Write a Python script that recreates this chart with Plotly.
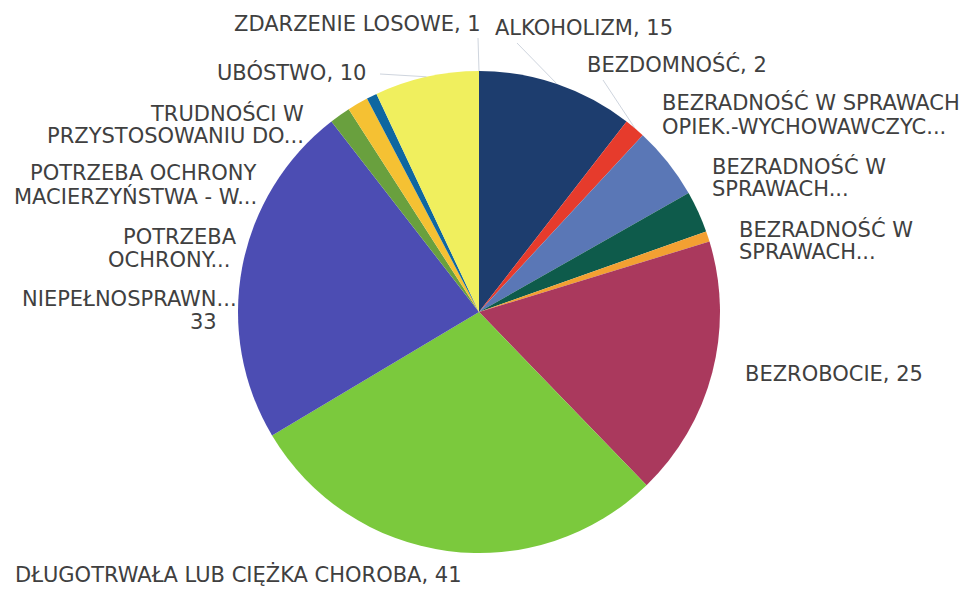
import math
import plotly.graph_objects as go

# ---- data (clockwise from 12 o'clock) ----
categories = [
    "ALKOHOLIZM",
    "BEZDOMNOŚĆ",
    "BEZRADNOŚĆ W SPRAWACH OPIEK.-WYCHOWAWCZYCH",
    "BEZRADNOŚĆ W SPRAWACH... (2)",
    "BEZRADNOŚĆ W SPRAWACH... (3)",
    "BEZROBOCIE",
    "DŁUGOTRWAŁA LUB CIĘŻKA CHOROBA",
    "NIEPEŁNOSPRAWNOŚĆ",
    "POTRZEBA OCHRONY...",
    "POTRZEBA OCHRONY MACIERZYŃSTWA - W...",
    "TRUDNOŚCI W PRZYSTOSOWANIU DO...",
    "ZDARZENIE LOSOWE",
    "UBÓSTWO",
]
values = [15, 2, 7, 4, 1, 25, 41, 33, 0, 2, 2, 1, 10]
colors = ["#1d3d6e", "#e63b2c", "#5a77b6", "#0e5b4b", "#f3a032", "#aa395d",
          "#7bc93d", "#4c4db3", "#8a8a8a", "#69a03e", "#f5c133", "#0f67a0", "#f0ef5e"]

# label text lines (as shown on the chart)
label_lines = [
    ["ZDARZENIE LOSOWE, 1"],
    ["ALKOHOLIZM, 15"],
    ["BEZDOMNOŚĆ, 2"],
    ["BEZRADNOŚĆ W SPRAWACH", "OPIEK.-WYCHOWAWCZYC..."],
    ["BEZRADNOŚĆ W", "SPRAWACH..."],
    ["BEZRADNOŚĆ W", "SPRAWACH..."],
    ["BEZROBOCIE, 25"],
    ["DŁUGOTRWAŁA LUB CIĘŻKA CHOROBA, 41"],
    ["NIEPEŁNOSPRAWN...", "33\u00a0\u00a0\u00a0"],
    ["POTRZEBA", "OCHRONY...\u00a0"],
    ["POTRZEBA OCHRONY", "MACIERZYŃSTWA - W..."],
    ["TRUDNOŚCI W", "PRZYSTOSOWANIU DO..."],
    ["UBÓSTWO, 10"],
]
# layout placement of labels: (x px, first-line y px, anchor, line pitch px)
label_pos = [
    (483, 24, "right", 23),
    (493, 28, "left", 23),
    (585, 64, "left", 23),
    (660, 103, "left", 24),
    (710, 166, "left", 23),
    (737, 229, "left", 23),
    (743, 374, "left", 23),
    (13, 574, "left", 23),
    (239, 299, "right", 23),
    (239, 237, "right", 23),
    (259, 173, "right", 23),
    (306, 113, "right", 23),
    (368, 72, "right", 23),
]

W, H = 973, 589
CX, CY, R = 479, 312, 241

fig = go.Figure()
fig.add_trace(go.Pie(
    labels=categories,
    values=values,
    sort=False,
    direction="clockwise",
    rotation=0,
    textinfo="none",
    marker=dict(colors=colors, line=dict(width=0)),
    showlegend=False,
    domain=dict(x=[(CX - R) / W, (CX + R) / W], y=[1 - (CY + R) / H, 1 - (CY - R) / H]),
    hoverinfo="label+value",
))

font = dict(family="DejaVu Sans", size=21, color="#404040")
annotations = []
for lines, (px, py, anchor, pitch) in zip(label_lines, label_pos):
    for i, line in enumerate(lines):
        annotations.append(dict(
            text=line, x=px / W, y=1 - (py + i * pitch) / H,
            xref="paper", yref="paper", xanchor=anchor, yanchor="middle",
            showarrow=False, font=font,
        ))

# faint leader lines from slice mid-edge to label
total = sum(values)
cum = []
acc = 0
for v in values:
    cum.append((acc + v / 2) / total * 360)
    acc += v

def edge(angle, r):
    a = math.radians(angle)
    return CX + r * math.sin(a), CY - r * math.cos(a)

leaders = [
    (0, (517, 43)),    # Alkoholizm
    (1, (603, 80)),    # Bezdomnosc
    (12, (380, 74)),   # Ubostwo
]
shapes = []
for idx, (lx, ly) in leaders:
    ex, ey = edge(cum[idx], R)
    shapes.append(dict(type="line", xref="paper", yref="paper",
                       x0=lx / W, y0=1 - ly / H, x1=ex / W, y1=1 - ey / H,
                       line=dict(color="#cfd5de", width=1)))
# Zdarzenie losowe leader to the top of the pie
tx, ty = edge(0, R)
shapes.append(dict(type="line", xref="paper", yref="paper",
                   x0=478 / W, y0=1 - 38 / H, x1=tx / W, y1=1 - ty / H,
                   line=dict(color="#cfd5de", width=1)))

fig.update_layout(
    width=W, height=H,
    margin=dict(l=0, r=0, t=0, b=0),
    paper_bgcolor="white", plot_bgcolor="white",
    annotations=annotations, shapes=shapes,
)
fig.write_html("out.html",
               config={"displayModeBar": False},
               post_script="document.body.style.margin='0';document.body.style.overflow='hidden';")
